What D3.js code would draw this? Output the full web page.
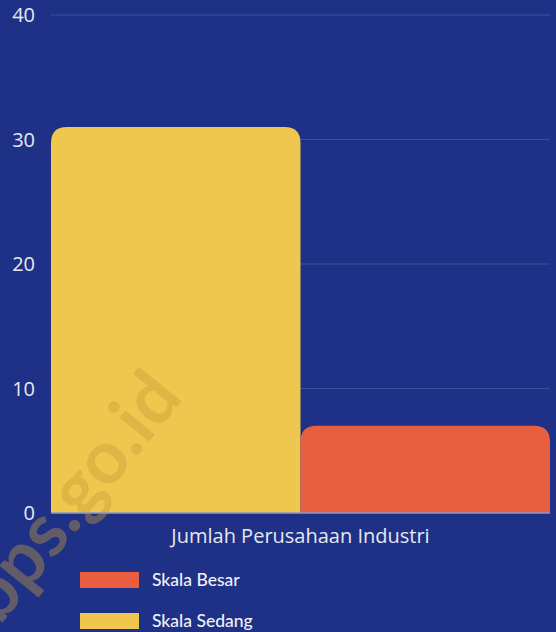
<!DOCTYPE html>
<html>
<head>
<meta charset="utf-8">
<script src="https://d3js.org/d3.v7.min.js"></script>
<style>
  body { margin: 0; background: #1e3187; }
</style>
</head>
<body>
<div id="chart"></div>
<script>
// data
const category = "Jumlah Perusahaan Industri";
const seriesNames = ["Skala Sedang", "Skala Besar"];
const seriesValues = [31, 7];
const seriesColors = ["#efc74f", "#e85e3e"];
const yTicks = [0, 10, 20, 30, 40];
const legendOrder = ["Skala Besar", "Skala Sedang"];

const width = 556, height = 632;
const margin = {top: 15, right: 6, bottom: 119, left: 51};

const svg = d3.select("#chart").append("svg")
    .attr("width", width)
    .attr("height", height)
    .style("font-family", "'Open Sans', sans-serif");

svg.append("rect").attr("width", width).attr("height", height).attr("fill", "#1e3187");

const y = d3.scaleLinear().domain([0, 40]).range([height - margin.bottom, margin.top]);
const x = d3.scaleBand().domain(seriesNames).range([margin.left, width - margin.right]).padding(0);

// gridlines
svg.append("g")
  .selectAll("line")
  .data(yTicks.filter(d => d > 0))
  .join("line")
    .attr("x1", margin.left)
    .attr("x2", width - margin.right)
    .attr("y1", d => y(d))
    .attr("y2", d => y(d))
    .attr("stroke", "#3d50a0")
    .attr("stroke-width", 1);

// y tick labels
svg.append("g")
  .selectAll("text")
  .data(yTicks)
  .join("text")
    .attr("x", 35)
    .attr("y", d => y(d))
    .attr("dy", "0.36em")
    .attr("text-anchor", "end")
    .attr("fill", "#e6e8f0")
    .style("font-size", "20px")
    .text(d => d);

// bars with rounded top corners
function topRounded(x0, y0, w, h, r) {
  r = Math.min(r, h, w / 2);
  return `M${x0},${y0 + h}V${y0 + r}Q${x0},${y0} ${x0 + r},${y0}H${x0 + w - r}Q${x0 + w},${y0} ${x0 + w},${y0 + r}V${y0 + h}Z`;
}

svg.append("g")
  .selectAll("path")
  .data(seriesNames)
  .join("path")
    .attr("d", (d, i) => topRounded(x(d), y(seriesValues[i]), x.bandwidth(), y(0) - y(seriesValues[i]), 16))
    .attr("fill", (d, i) => seriesColors[i]);

// watermark
svg.append("text")
    .attr("transform", "translate(92,512) rotate(-51)")
    .attr("text-anchor", "middle")
    .attr("fill", "#c59e38")
    .attr("opacity", 0.4)
    .style("font-family", "Lato, sans-serif")
    .style("font-weight", "bold")
    .style("font-size", "74px")
    .text("bps.go.id");

// baseline
svg.append("line")
    .attr("x1", margin.left)
    .attr("x2", width - margin.right)
    .attr("y1", y(0))
    .attr("y2", y(0))
    .attr("stroke", "#8e98c4")
    .attr("stroke-width", 1.5);

// category label
svg.append("text")
    .attr("x", (margin.left + width - margin.right) / 2)
    .attr("y", 543)
    .attr("text-anchor", "middle")
    .attr("fill", "#e6e8f0")
    .style("font-size", "20px")
    .text(category);

// legend
const legend = svg.append("g")
  .selectAll("g")
  .data(legendOrder)
  .join("g")
    .attr("transform", (d, i) => `translate(80,${572 + i * 41})`);

legend.append("rect")
    .attr("width", 59)
    .attr("height", 16)
    .attr("fill", d => seriesColors[seriesNames.indexOf(d)]);

legend.append("text")
    .attr("x", 72)
    .attr("y", 8)
    .attr("dy", "0.35em")
    .attr("fill", "#f0f1f6")
    .style("font-family", "Lato, sans-serif")
    .style("font-weight", "500")
    .style("font-size", "17.5px")
    .text(d => d);
</script>
</body>
</html>
